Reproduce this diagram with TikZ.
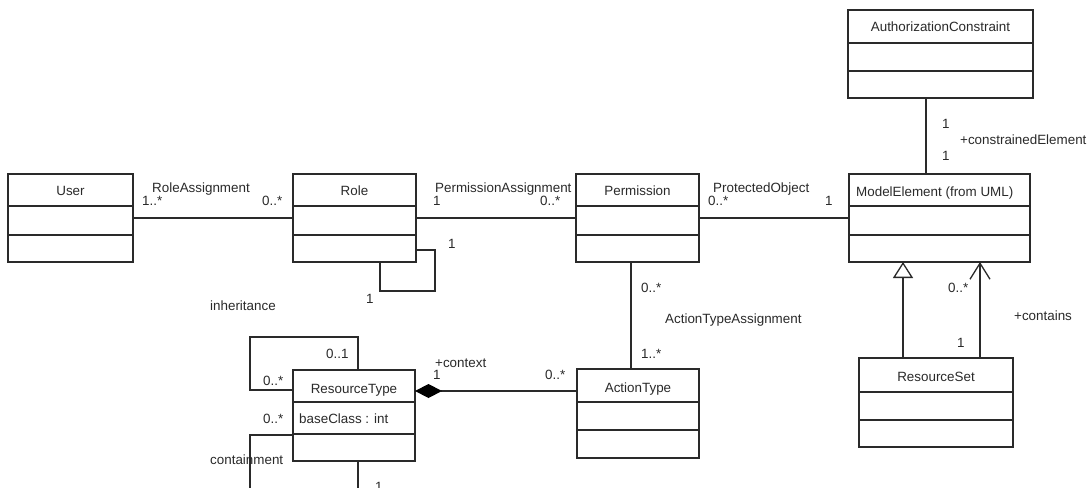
\documentclass[tikz,border=0pt]{standalone}
\usepackage{fontspec}
\setmainfont{Liberation Sans}
\usetikzlibrary{arrows.meta,calc}
\definecolor{ink}{HTML}{2A2A2A}
\tikzset{
  ln/.style={draw=ink, line width=1.3pt},
  cls/.style={draw=ink, line width=1.3pt, rectangle, inner sep=0pt, outer sep=0pt, fill=white},
  lbl/.style={anchor=base west, inner sep=0pt, text=ink, font=\fontsize{13.4}{15}\selectfont},
  ttl/.style={anchor=base, inner sep=0pt, text=ink, font=\fontsize{13.4}{15}\selectfont},
}
\newcommand\umlbox[7]{%
  \node[cls, minimum width={#4-#2}, minimum height={#5-#3}] (#1) at ({(#2+#4)/2},{(#3+#5)/2}) {};
  \draw[ln] (#1.west |- 0,#6) -- (#1.east |- 0,#6);
  \draw[ln] (#1.west |- 0,#7) -- (#1.east |- 0,#7);}
\begin{document}
\begin{tikzpicture}[x=1pt,y=-1pt]
\useasboundingbox[fill=white] (0,0) rectangle (1089,487);
% class boxes
\umlbox{user}{8}{174}{133}{262}{206}{235}
\umlbox{role}{293}{174}{416}{262}{206}{235}
\umlbox{perm}{576}{174}{699}{262}{206}{235}
\umlbox{me}{849}{174}{1030}{262}{206}{235}
\umlbox{ac}{848}{10}{1033}{98}{43}{71}
\umlbox{at}{577}{369}{699}{458}{402}{430}
\umlbox{rt}{293}{370}{415}{461}{402}{434}
\umlbox{rs}{859}{358}{1013}{447}{392}{420}
% titles
\node[ttl] (tuser) at (70.5,195.5) {User};
\node[ttl] (trole) at (354.5,195.5) {Role};
\node[ttl] (tperm) at (637.5,195.5) {Permission};
\node[lbl] (tme) at (856,196) {ModelElement (from UML)};
\node[ttl] (tac) at (940.5,32) {AuthorizationConstraint};
\node[ttl] (tat) at (638,392) {ActionType};
\node[ttl] (trt) at (354,393) {ResourceType};
\node[lbl] (trtattr) at (299,423) {baseClass : int};
\node[ttl] (trs) at (936,381) {ResourceSet};
% connectors
\draw[ln] (user.east) -- (role.west);
\draw[ln] (role.east) -- (perm.west);
\draw[ln] (perm.east) -- (me.west);
\draw[ln] (ac.south -| 926,0) -- (me.north -| 926,0);
\draw[ln] (perm.south -| 631,0) -- (at.north -| 631,0);
\draw[ln, {Diamond[length=27pt,width=14pt,line width=0pt,fill=black,color=black]}-] (rt.east |- 0,391) -- (at.west |- 0,391);
\draw[ln, -{Triangle[open,length=16pt,width=20pt,fill=white]}] (rs.north -| 903,0) -- (me.south -| 903,0);
\draw[ln, -{Straight Barb[length=16pt,width=20pt]}] (rs.north -| 980,0) -- (me.south -| 980,0);
% self loops
\draw[ln] (role.east |- 0,250) -| (435,291) -| (role.south -| 380,0);
\draw[ln] (rt.north -| 358,0) |- (250,337) |- (rt.west |- 0,390);
\draw[ln] (rt.west |- 0,435) -| (250,490);
\draw[ln] (rt.south -| 358,0) -- (358,490);
% labels
\node[lbl] (l1) at (152,192) {RoleAssignment};
\node[lbl] (l2) at (142,205) {1..*};
\node[lbl] (l3) at (262,205) {0..*};
\node[lbl] (l4) at (435,192) {PermissionAssignment};
\node[lbl] (l5) at (433,205) {1};
\node[lbl] (l6) at (540,205) {0..*};
\node[lbl] (l7) at (713,192) {ProtectedObject};
\node[lbl] (l8) at (708,205) {0..*};
\node[lbl] (l9) at (825,205) {1};
\node[lbl] (l10) at (448,248) {1};
\node[lbl] (l11) at (366,303) {1};
\node[lbl] (l12) at (210,310) {inheritance};
\node[lbl] (l13) at (641,292) {0..*};
\node[lbl] (l14) at (665,323) {ActionTypeAssignment};
\node[lbl] (l15) at (641,358) {1..*};
\node[lbl] (l16) at (545,379) {0..*};
\node[lbl] (l17) at (435,367) {+context};
\node[lbl] (l18) at (433,379) {1};
\node[lbl] (l19) at (326,358) {0..1};
\node[lbl] (l20) at (263,385) {0..*};
\node[lbl] (l21) at (263,423) {0..*};
\node[lbl] (l22) at (210,464) {containment};
\node[lbl] (l23) at (375,491) {1};
\node[lbl] (l24) at (942,128) {1};
\node[lbl] (l25) at (960,144) {+constrainedElement};
\node[lbl] (l26) at (942,160) {1};
\node[lbl] (l28) at (948,292) {0..*};
\node[lbl] (l29) at (1014,320) {+contains};
\node[lbl] (l30) at (957,347) {1};
\end{tikzpicture}
\end{document}
